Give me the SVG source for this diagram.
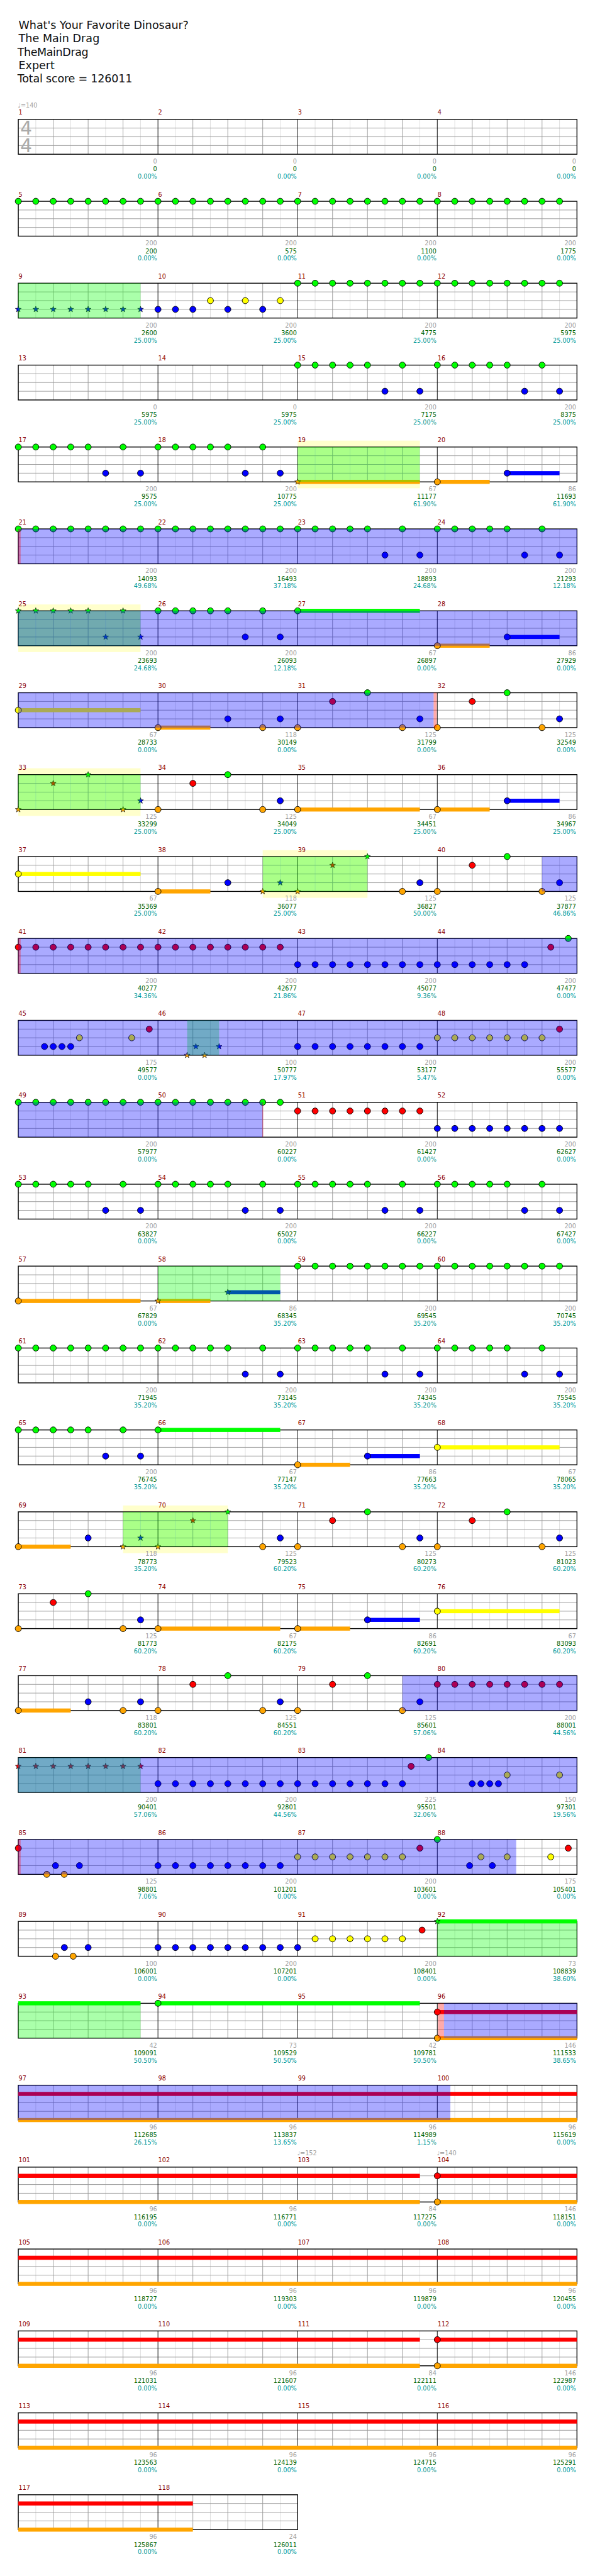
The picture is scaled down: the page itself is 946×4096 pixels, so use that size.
<svg xmlns="http://www.w3.org/2000/svg" width="946" height="4096" viewBox="0 0 946 4096">
<style>
text{font-family:"DejaVu Sans",Verdana,sans-serif}
.hd{font-size:19px;fill:#111}
.mn{font-size:10.5px;fill:#8b0000}
.gv{font-size:10.5px;fill:#a0a0a0;text-anchor:end}
.sc{font-size:10.5px;fill:#006400;text-anchor:end}
.pc{font-size:10.5px;fill:#009999;text-anchor:end}
.tp{font-size:10.5px;fill:#a0a0a0}
.ts{font-size:32px;fill:#aaa}
.yb{fill:#ffffcc}
.ov{fill:#00ff00;fill-opacity:.333}
.bo{fill:#0000ff;fill-opacity:.333}
.pk{fill:#ff0000;fill-opacity:.333}
.sg{fill:#00ff00}.sr{fill:#ff0000}.sy{fill:#ffff00}.sb{fill:#0000ff}.so{fill:#ffa500}
</style>
<defs>
<g id="g4">
<path d="M61.6 0v60M121.7 0v60M181.8 0v60M241.9 0v60M302 0v60M362.1 0v60M422.2 0v60M482.3 0v60M542.4 0v60M602.5 0v60M662.6 0v60M722.7 0v60M782.8 0v60M842.9 0v60M903 0v60M963.1 0v60" stroke="#dddddd" stroke-width="1"/>
<path d="M91.6 0v60M151.7 0v60M211.8 0v60M332 0v60M392.1 0v60M452.2 0v60M572.4 0v60M632.5 0v60M692.6 0v60M812.8 0v60M872.9 0v60M933 0v60M31.5 15H993.1M31.5 30H993.1M31.5 45H993.1" stroke="#999" stroke-width="1"/>
<path d="M271.9 0v60M512.3 0v60M752.7 0v60" stroke="#000" stroke-width="1"/>
<rect x="31.5" y="0" width="961.6" height="60" fill="none" stroke="#000" stroke-width="1.5"/>
</g>
<g id="g2">
<path d="M61.6 0v60M121.7 0v60M181.8 0v60M241.9 0v60M302 0v60M362.1 0v60M422.2 0v60M482.3 0v60" stroke="#dddddd" stroke-width="1"/>
<path d="M91.6 0v60M151.7 0v60M211.8 0v60M332 0v60M392.1 0v60M452.2 0v60M31.5 15H512.3M31.5 30H512.3M31.5 45H512.3" stroke="#999" stroke-width="1"/>
<path d="M271.9 0v60" stroke="#000" stroke-width="1"/>
<rect x="31.5" y="0" width="480.8" height="60" fill="none" stroke="#000" stroke-width="1.5"/>
</g>
<circle id="g" r="5.3" fill="#00ff00" stroke="#000"/>
<circle id="r" cy="15" r="5.3" fill="#ff0000" stroke="#000"/>
<circle id="y" cy="30" r="5.3" fill="#ffff00" stroke="#000"/>
<circle id="b" cy="45" r="5.3" fill="#0000ff" stroke="#000"/>
<circle id="o" cy="60" r="5.3" fill="#ffa500" stroke="#000"/>
<polygon id="st" points="0,-5.3 1.29,-1.78 5.04,-1.64 2.09,0.68 3.12,4.29 0,2.2 -3.12,4.29 -2.09,0.68 -5.04,-1.64 -1.29,-1.78" stroke="#000" stroke-width="0.7"/>
<use id="G" href="#st" fill="#00ff00"/>
<use id="R" href="#st" y="15" fill="#ff0000"/>
<use id="Y" href="#st" y="30" fill="#ffff00"/>
<use id="B" href="#st" y="45" fill="#0000ff"/>
<use id="O" href="#st" y="60" fill="#ffa500"/>
</defs>
<rect width="946" height="4096" fill="#fff"/>
<g transform="scale(0.9237)">
<g id="header">
<text class="hd" x="32" y="49.3" textLength="292.7">What's Your Favorite Dinosaur?</text>
<text class="hd" x="32" y="72.7" textLength="139.4">The Main Drag</text>
<text class="hd" x="30" y="96" textLength="122.3">TheMainDrag</text>
<text class="hd" x="32" y="119" textLength="62">Expert</text>
<text class="hd" x="30" y="141.7" textLength="197.7">Total score = 126011</text>
</g>

<g id="row1" transform="translate(0,205.5)">
<use href="#g4"/>
<text class="ts" x="35" y="26.5">4</text><text class="ts" x="35" y="56.5">4</text>
<text class="tp" x="30.7" y="-20.8">♩=140</text>
<g class="mn" transform="translate(0,-8)"><text x="32">1</text><text x="272.4">2</text><text x="512.8">3</text><text x="753.2">4</text></g>
<g class="gv" transform="translate(0,76.2)"><text x="270.4">0</text><text x="510.8">0</text><text x="751.2">0</text><text x="991.6">0</text></g>
<g class="sc" transform="translate(0,89.5)"><text x="270.4">0</text><text x="510.8">0</text><text x="751.2">0</text><text x="991.6">0</text></g>
<g class="pc" transform="translate(0,102.2)"><text x="270.4">0.00%</text><text x="510.8">0.00%</text><text x="751.2">0.00%</text><text x="991.6">0.00%</text></g>
</g>

<g id="row2" transform="translate(0,346.5)">
<use href="#g4"/>
<use href="#g" x="31.5"/><use href="#g" x="61.6"/><use href="#g" x="91.6"/><use href="#g" x="121.7"/><use href="#g" x="151.7"/><use href="#g" x="181.8"/><use href="#g" x="211.8"/><use href="#g" x="241.9"/><use href="#g" x="271.9"/><use href="#g" x="302"/><use href="#g" x="332"/><use href="#g" x="362.1"/><use href="#g" x="392.1"/><use href="#g" x="422.2"/><use href="#g" x="452.2"/><use href="#g" x="482.3"/><use href="#g" x="512.3"/><use href="#g" x="542.4"/><use href="#g" x="572.4"/><use href="#g" x="602.5"/><use href="#g" x="632.5"/><use href="#g" x="662.6"/><use href="#g" x="692.6"/><use href="#g" x="722.7"/><use href="#g" x="752.7"/><use href="#g" x="782.8"/><use href="#g" x="812.8"/><use href="#g" x="842.9"/><use href="#g" x="872.9"/><use href="#g" x="903"/><use href="#g" x="933"/><use href="#g" x="963.1"/>
<g class="mn" transform="translate(0,-8)"><text x="32">5</text><text x="272.4">6</text><text x="512.8">7</text><text x="753.2">8</text></g>
<g class="gv" transform="translate(0,76.2)"><text x="270.4">200</text><text x="510.8">200</text><text x="751.2">200</text><text x="991.6">200</text></g>
<g class="sc" transform="translate(0,89.5)"><text x="270.4">200</text><text x="510.8">575</text><text x="751.2">1100</text><text x="991.6">1775</text></g>
<g class="pc" transform="translate(0,102.2)"><text x="270.4">0.00%</text><text x="510.8">0.00%</text><text x="751.2">0.00%</text><text x="991.6">0.00%</text></g>
</g>

<g id="row3" transform="translate(0,487.5)">
<use href="#g4"/>
<use href="#B" x="31.5"/><use href="#B" x="61.6"/><use href="#B" x="91.6"/><use href="#B" x="121.7"/><use href="#B" x="151.7"/><use href="#B" x="181.8"/><use href="#B" x="211.8"/><use href="#B" x="241.9"/>
<use href="#b" x="271.9"/><use href="#b" x="302"/><use href="#b" x="332"/><use href="#b" x="392.1"/><use href="#b" x="452.2"/>
<use href="#y" x="362.1"/><use href="#y" x="422.2"/><use href="#y" x="482.3"/>
<use href="#g" x="512.3"/><use href="#g" x="542.4"/><use href="#g" x="572.4"/><use href="#g" x="602.5"/><use href="#g" x="632.5"/><use href="#g" x="662.6"/><use href="#g" x="692.6"/><use href="#g" x="722.7"/><use href="#g" x="752.7"/><use href="#g" x="782.8"/><use href="#g" x="812.8"/><use href="#g" x="842.9"/><use href="#g" x="872.9"/><use href="#g" x="903"/><use href="#g" x="933"/><use href="#g" x="963.1"/>
<rect class="ov" x="31.5" y="0" width="210.4" height="60"/>
<g class="mn" transform="translate(0,-8)"><text x="32">9</text><text x="272.4">10</text><text x="512.8">11</text><text x="753.2">12</text></g>
<g class="gv" transform="translate(0,76.2)"><text x="270.4">200</text><text x="510.8">200</text><text x="751.2">200</text><text x="991.6">200</text></g>
<g class="sc" transform="translate(0,89.5)"><text x="270.4">2600</text><text x="510.8">3600</text><text x="751.2">4775</text><text x="991.6">5975</text></g>
<g class="pc" transform="translate(0,102.2)"><text x="270.4">25.00%</text><text x="510.8">25.00%</text><text x="751.2">25.00%</text><text x="991.6">25.00%</text></g>
</g>

<g id="row4" transform="translate(0,628.5)">
<use href="#g4"/>
<use href="#g" x="512.3"/><use href="#g" x="542.4"/><use href="#g" x="572.4"/><use href="#g" x="602.5"/><use href="#g" x="632.5"/><use href="#g" x="692.6"/><use href="#g" x="752.7"/><use href="#g" x="782.8"/><use href="#g" x="812.8"/><use href="#g" x="842.9"/><use href="#g" x="872.9"/><use href="#g" x="933"/>
<use href="#b" x="662.6"/><use href="#b" x="722.7"/><use href="#b" x="903"/><use href="#b" x="963.1"/>
<g class="mn" transform="translate(0,-8)"><text x="32">13</text><text x="272.4">14</text><text x="512.8">15</text><text x="753.2">16</text></g>
<g class="gv" transform="translate(0,76.2)"><text x="270.4">0</text><text x="510.8">0</text><text x="751.2">200</text><text x="991.6">200</text></g>
<g class="sc" transform="translate(0,89.5)"><text x="270.4">5975</text><text x="510.8">5975</text><text x="751.2">7175</text><text x="991.6">8375</text></g>
<g class="pc" transform="translate(0,102.2)"><text x="270.4">25.00%</text><text x="510.8">25.00%</text><text x="751.2">25.00%</text><text x="991.6">25.00%</text></g>
</g>

<g id="row5" transform="translate(0,769.5)">
<rect class="yb" x="512.3" y="-11" width="210.4" height="82"/>
<use href="#g4"/>
<rect class="so" x="512.3" y="56.5" width="210.4" height="7"/><rect class="so" x="752.7" y="56.5" width="90.2" height="7"/><rect class="sb" x="872.9" y="41.5" width="90.2" height="7"/>
<use href="#g" x="31.5"/><use href="#g" x="61.6"/><use href="#g" x="91.6"/><use href="#g" x="121.7"/><use href="#g" x="151.7"/><use href="#g" x="211.8"/><use href="#g" x="271.9"/><use href="#g" x="302"/><use href="#g" x="332"/><use href="#g" x="362.1"/><use href="#g" x="392.1"/><use href="#g" x="452.2"/>
<use href="#b" x="181.8"/><use href="#b" x="241.9"/><use href="#b" x="422.2"/><use href="#b" x="482.3"/>
<use href="#O" x="512.3"/><use href="#o" x="752.7"/><use href="#b" x="872.9"/>
<rect class="ov" x="512.3" y="0" width="210.4" height="60"/>
<g class="mn" transform="translate(0,-8)"><text x="32">17</text><text x="272.4">18</text><text x="512.8">19</text><text x="753.2">20</text></g>
<g class="gv" transform="translate(0,76.2)"><text x="270.4">200</text><text x="510.8">200</text><text x="751.2">67</text><text x="991.6">86</text></g>
<g class="sc" transform="translate(0,89.5)"><text x="270.4">9575</text><text x="510.8">10775</text><text x="751.2">11177</text><text x="991.6">11693</text></g>
<g class="pc" transform="translate(0,102.2)"><text x="270.4">25.00%</text><text x="510.8">25.00%</text><text x="751.2">61.90%</text><text x="991.6">61.90%</text></g>
</g>

<g id="row6" transform="translate(0,910.5)">
<use href="#g4"/>
<use href="#g" x="31.5"/><use href="#g" x="61.6"/><use href="#g" x="91.6"/><use href="#g" x="121.7"/><use href="#g" x="151.7"/><use href="#g" x="181.8"/><use href="#g" x="211.8"/><use href="#g" x="241.9"/><use href="#g" x="271.9"/><use href="#g" x="302"/><use href="#g" x="332"/><use href="#g" x="362.1"/><use href="#g" x="392.1"/><use href="#g" x="422.2"/><use href="#g" x="452.2"/><use href="#g" x="482.3"/><use href="#g" x="512.3"/><use href="#g" x="542.4"/><use href="#g" x="572.4"/><use href="#g" x="602.5"/><use href="#g" x="632.5"/><use href="#g" x="692.6"/><use href="#g" x="752.7"/><use href="#g" x="782.8"/><use href="#g" x="812.8"/><use href="#g" x="842.9"/><use href="#g" x="872.9"/><use href="#g" x="933"/>
<use href="#b" x="662.6"/><use href="#b" x="722.7"/><use href="#b" x="903"/><use href="#b" x="963.1"/>
<rect class="bo" x="31.5" y="0" width="961.6" height="60"/><rect class="pk" x="31.5" y="0" width="4" height="60"/>
<g class="mn" transform="translate(0,-8)"><text x="32">21</text><text x="272.4">22</text><text x="512.8">23</text><text x="753.2">24</text></g>
<g class="gv" transform="translate(0,76.2)"><text x="270.4">200</text><text x="510.8">200</text><text x="751.2">200</text><text x="991.6">200</text></g>
<g class="sc" transform="translate(0,89.5)"><text x="270.4">14093</text><text x="510.8">16493</text><text x="751.2">18893</text><text x="991.6">21293</text></g>
<g class="pc" transform="translate(0,102.2)"><text x="270.4">49.68%</text><text x="510.8">37.18%</text><text x="751.2">24.68%</text><text x="991.6">12.18%</text></g>
</g>

<g id="row7" transform="translate(0,1051.5)">
<rect class="yb" x="31.5" y="-11" width="210.4" height="82"/>
<use href="#g4"/>
<rect class="sg" x="512.3" y="-3.5" width="210.4" height="7"/><rect class="so" x="752.7" y="56.5" width="90.2" height="7"/><rect class="sb" x="872.9" y="41.5" width="90.2" height="7"/>
<use href="#G" x="31.5"/><use href="#G" x="61.6"/><use href="#G" x="91.6"/><use href="#G" x="121.7"/><use href="#G" x="151.7"/><use href="#G" x="211.8"/>
<use href="#B" x="181.8"/><use href="#B" x="241.9"/>
<use href="#g" x="271.9"/><use href="#g" x="302"/><use href="#g" x="332"/><use href="#g" x="362.1"/><use href="#g" x="392.1"/><use href="#g" x="452.2"/>
<use href="#b" x="422.2"/><use href="#b" x="482.3"/>
<use href="#g" x="512.3"/><use href="#o" x="752.7"/><use href="#b" x="872.9"/>
<rect class="ov" x="31.5" y="0" width="210.4" height="60"/>
<rect class="bo" x="31.5" y="0" width="961.6" height="60"/>
<g class="mn" transform="translate(0,-8)"><text x="32">25</text><text x="272.4">26</text><text x="512.8">27</text><text x="753.2">28</text></g>
<g class="gv" transform="translate(0,76.2)"><text x="270.4">200</text><text x="510.8">200</text><text x="751.2">67</text><text x="991.6">86</text></g>
<g class="sc" transform="translate(0,89.5)"><text x="270.4">23693</text><text x="510.8">26093</text><text x="751.2">26897</text><text x="991.6">27929</text></g>
<g class="pc" transform="translate(0,102.2)"><text x="270.4">24.68%</text><text x="510.8">12.18%</text><text x="751.2">0.00%</text><text x="991.6">0.00%</text></g>
</g>

<g id="row8" transform="translate(0,1192.5)">
<use href="#g4"/>
<rect class="sy" x="31.5" y="26.5" width="210.4" height="7"/><rect class="so" x="271.9" y="56.5" width="90.2" height="7"/>
<use href="#y" x="31.5"/><use href="#o" x="271.9"/>
<use href="#b" x="392.1"/><use href="#b" x="482.3"/><use href="#b" x="722.7"/><use href="#b" x="963.1"/>
<use href="#o" x="452.2"/><use href="#o" x="512.3"/><use href="#o" x="692.6"/><use href="#o" x="752.7"/><use href="#o" x="933"/>
<use href="#r" x="572.4"/><use href="#r" x="812.8"/><use href="#g" x="632.5"/><use href="#g" x="872.9"/>
<rect class="bo" x="31.5" y="0" width="714.9" height="60"/><rect class="pk" x="746.4" y="0" width="5.4" height="60"/>
<g class="mn" transform="translate(0,-8)"><text x="32">29</text><text x="272.4">30</text><text x="512.8">31</text><text x="753.2">32</text></g>
<g class="gv" transform="translate(0,76.2)"><text x="270.4">67</text><text x="510.8">118</text><text x="751.2">125</text><text x="991.6">125</text></g>
<g class="sc" transform="translate(0,89.5)"><text x="270.4">28733</text><text x="510.8">30149</text><text x="751.2">31799</text><text x="991.6">32549</text></g>
<g class="pc" transform="translate(0,102.2)"><text x="270.4">0.00%</text><text x="510.8">0.00%</text><text x="751.2">0.00%</text><text x="991.6">0.00%</text></g>
</g>

<g id="row9" transform="translate(0,1333.5)">
<rect class="yb" x="31.5" y="-11" width="210.4" height="82"/>
<use href="#g4"/>
<rect class="so" x="512.3" y="56.5" width="210.4" height="7"/><rect class="so" x="752.7" y="56.5" width="90.2" height="7"/><rect class="sb" x="872.9" y="41.5" width="90.2" height="7"/>
<use href="#O" x="31.5"/><use href="#R" x="91.6"/><use href="#G" x="151.7"/><use href="#O" x="211.8"/><use href="#B" x="241.9"/>
<use href="#o" x="271.9"/><use href="#r" x="332"/><use href="#g" x="392.1"/><use href="#o" x="452.2"/><use href="#b" x="482.3"/>
<use href="#o" x="512.3"/><use href="#o" x="752.7"/><use href="#b" x="872.9"/>
<rect class="ov" x="31.5" y="0" width="210.4" height="60"/>
<g class="mn" transform="translate(0,-8)"><text x="32">33</text><text x="272.4">34</text><text x="512.8">35</text><text x="753.2">36</text></g>
<g class="gv" transform="translate(0,76.2)"><text x="270.4">125</text><text x="510.8">125</text><text x="751.2">67</text><text x="991.6">86</text></g>
<g class="sc" transform="translate(0,89.5)"><text x="270.4">33299</text><text x="510.8">34049</text><text x="751.2">34451</text><text x="991.6">34967</text></g>
<g class="pc" transform="translate(0,102.2)"><text x="270.4">25.00%</text><text x="510.8">25.00%</text><text x="751.2">25.00%</text><text x="991.6">25.00%</text></g>
</g>

<g id="row10" transform="translate(0,1474.5)">
<rect class="yb" x="452.2" y="-11" width="180.3" height="82"/>
<use href="#g4"/>
<rect class="sy" x="31.5" y="26.5" width="210.4" height="7"/><rect class="so" x="271.9" y="56.5" width="90.2" height="7"/>
<use href="#y" x="31.5"/><use href="#o" x="271.9"/><use href="#b" x="392.1"/>
<use href="#O" x="452.2"/><use href="#B" x="482.3"/><use href="#O" x="512.3"/><use href="#R" x="572.4"/><use href="#G" x="632.5"/>
<use href="#o" x="692.6"/><use href="#b" x="722.7"/><use href="#o" x="752.7"/><use href="#r" x="812.8"/><use href="#g" x="872.9"/><use href="#o" x="933"/><use href="#b" x="963.1"/>
<rect class="ov" x="452.2" y="0" width="180.3" height="60"/>
<rect class="bo" x="933" y="0" width="60.1" height="60"/>
<g class="mn" transform="translate(0,-8)"><text x="32">37</text><text x="272.4">38</text><text x="512.8">39</text><text x="753.2">40</text></g>
<g class="gv" transform="translate(0,76.2)"><text x="270.4">67</text><text x="510.8">118</text><text x="751.2">125</text><text x="991.6">125</text></g>
<g class="sc" transform="translate(0,89.5)"><text x="270.4">35369</text><text x="510.8">36077</text><text x="751.2">36827</text><text x="991.6">37877</text></g>
<g class="pc" transform="translate(0,102.2)"><text x="270.4">25.00%</text><text x="510.8">25.00%</text><text x="751.2">50.00%</text><text x="991.6">46.86%</text></g>
</g>

<g id="row11" transform="translate(0,1615.5)">
<use href="#g4"/>
<use href="#r" x="31.5"/><use href="#r" x="61.6"/><use href="#r" x="91.6"/><use href="#r" x="121.7"/><use href="#r" x="151.7"/><use href="#r" x="181.8"/><use href="#r" x="211.8"/><use href="#r" x="241.9"/><use href="#r" x="271.9"/><use href="#r" x="302"/><use href="#r" x="332"/><use href="#r" x="362.1"/><use href="#r" x="392.1"/><use href="#r" x="422.2"/><use href="#r" x="452.2"/><use href="#r" x="482.3"/>
<use href="#b" x="512.3"/><use href="#b" x="542.4"/><use href="#b" x="572.4"/><use href="#b" x="602.5"/><use href="#b" x="632.5"/><use href="#b" x="662.6"/><use href="#b" x="692.6"/><use href="#b" x="722.7"/><use href="#b" x="752.7"/><use href="#b" x="782.8"/><use href="#b" x="812.8"/><use href="#b" x="842.9"/><use href="#b" x="872.9"/><use href="#b" x="903"/>
<use href="#r" x="948"/><use href="#g" x="978.1"/>
<rect class="bo" x="31.5" y="0" width="961.6" height="60"/><rect class="pk" x="31.5" y="0" width="4" height="60"/>
<g class="mn" transform="translate(0,-8)"><text x="32">41</text><text x="272.4">42</text><text x="512.8">43</text><text x="753.2">44</text></g>
<g class="gv" transform="translate(0,76.2)"><text x="270.4">200</text><text x="510.8">200</text><text x="751.2">200</text><text x="991.6">200</text></g>
<g class="sc" transform="translate(0,89.5)"><text x="270.4">40277</text><text x="510.8">42677</text><text x="751.2">45077</text><text x="991.6">47477</text></g>
<g class="pc" transform="translate(0,102.2)"><text x="270.4">34.36%</text><text x="510.8">21.86%</text><text x="751.2">9.36%</text><text x="991.6">0.00%</text></g>
</g>

<g id="row12" transform="translate(0,1756.5)">
<use href="#g4"/>
<use href="#b" x="76.6"/><use href="#b" x="91.6"/><use href="#b" x="106.6"/><use href="#b" x="121.7"/>
<use href="#y" x="136.7"/><use href="#y" x="226.8"/><use href="#r" x="256.9"/>
<use href="#O" x="322.1"/><use href="#O" x="352.1"/><use href="#B" x="337.1"/><use href="#B" x="377.1"/>
<use href="#b" x="512.3"/><use href="#b" x="542.4"/><use href="#b" x="572.4"/><use href="#b" x="602.5"/><use href="#b" x="632.5"/><use href="#b" x="662.6"/><use href="#b" x="692.6"/><use href="#b" x="722.7"/>
<use href="#y" x="752.7"/><use href="#y" x="782.8"/><use href="#y" x="812.8"/><use href="#y" x="842.9"/><use href="#y" x="872.9"/><use href="#y" x="903"/><use href="#y" x="933"/>
<use href="#r" x="963.1"/>
<rect class="ov" x="322.1" y="0" width="55" height="60"/>
<rect class="bo" x="31.5" y="0" width="961.6" height="60"/>
<g class="mn" transform="translate(0,-8)"><text x="32">45</text><text x="272.4">46</text><text x="512.8">47</text><text x="753.2">48</text></g>
<g class="gv" transform="translate(0,76.2)"><text x="270.4">175</text><text x="510.8">100</text><text x="751.2">200</text><text x="991.6">200</text></g>
<g class="sc" transform="translate(0,89.5)"><text x="270.4">49577</text><text x="510.8">50777</text><text x="751.2">53177</text><text x="991.6">55577</text></g>
<g class="pc" transform="translate(0,102.2)"><text x="270.4">0.00%</text><text x="510.8">17.97%</text><text x="751.2">5.47%</text><text x="991.6">0.00%</text></g>
</g>

<g id="row13" transform="translate(0,1897.5)">
<use href="#g4"/>
<use href="#g" x="31.5"/><use href="#g" x="61.6"/><use href="#g" x="91.6"/><use href="#g" x="121.7"/><use href="#g" x="151.7"/><use href="#g" x="181.8"/><use href="#g" x="211.8"/><use href="#g" x="241.9"/><use href="#g" x="271.9"/><use href="#g" x="302"/><use href="#g" x="332"/><use href="#g" x="362.1"/><use href="#g" x="392.1"/><use href="#g" x="422.2"/><use href="#g" x="452.2"/><use href="#g" x="482.3"/>
<use href="#r" x="512.3"/><use href="#r" x="542.4"/><use href="#r" x="572.4"/><use href="#r" x="602.5"/><use href="#r" x="632.5"/><use href="#r" x="662.6"/><use href="#r" x="692.6"/><use href="#r" x="722.7"/>
<use href="#b" x="752.7"/><use href="#b" x="782.8"/><use href="#b" x="812.8"/><use href="#b" x="842.9"/><use href="#b" x="872.9"/><use href="#b" x="903"/><use href="#b" x="933"/><use href="#b" x="963.1"/>
<rect class="bo" x="31.5" y="0" width="420.7" height="60"/><rect class="pk" x="451.5" y="0" width="1.5" height="60"/>
<g class="mn" transform="translate(0,-8)"><text x="32">49</text><text x="272.4">50</text><text x="512.8">51</text><text x="753.2">52</text></g>
<g class="gv" transform="translate(0,76.2)"><text x="270.4">200</text><text x="510.8">200</text><text x="751.2">200</text><text x="991.6">200</text></g>
<g class="sc" transform="translate(0,89.5)"><text x="270.4">57977</text><text x="510.8">60227</text><text x="751.2">61427</text><text x="991.6">62627</text></g>
<g class="pc" transform="translate(0,102.2)"><text x="270.4">0.00%</text><text x="510.8">0.00%</text><text x="751.2">0.00%</text><text x="991.6">0.00%</text></g>
</g>

<g id="row14" transform="translate(0,2038.5)">
<use href="#g4"/>
<use href="#g" x="31.5"/><use href="#g" x="61.6"/><use href="#g" x="91.6"/><use href="#g" x="121.7"/><use href="#g" x="151.7"/><use href="#g" x="211.8"/><use href="#g" x="271.9"/><use href="#g" x="302"/><use href="#g" x="332"/><use href="#g" x="362.1"/><use href="#g" x="392.1"/><use href="#g" x="452.2"/><use href="#g" x="512.3"/><use href="#g" x="542.4"/><use href="#g" x="572.4"/><use href="#g" x="602.5"/><use href="#g" x="632.5"/><use href="#g" x="692.6"/><use href="#g" x="752.7"/><use href="#g" x="782.8"/><use href="#g" x="812.8"/><use href="#g" x="842.9"/><use href="#g" x="872.9"/><use href="#g" x="933"/>
<use href="#b" x="181.8"/><use href="#b" x="241.9"/><use href="#b" x="422.2"/><use href="#b" x="482.3"/><use href="#b" x="662.6"/><use href="#b" x="722.7"/><use href="#b" x="903"/><use href="#b" x="963.1"/>
<g class="mn" transform="translate(0,-8)"><text x="32">53</text><text x="272.4">54</text><text x="512.8">55</text><text x="753.2">56</text></g>
<g class="gv" transform="translate(0,76.2)"><text x="270.4">200</text><text x="510.8">200</text><text x="751.2">200</text><text x="991.6">200</text></g>
<g class="sc" transform="translate(0,89.5)"><text x="270.4">63827</text><text x="510.8">65027</text><text x="751.2">66227</text><text x="991.6">67427</text></g>
<g class="pc" transform="translate(0,102.2)"><text x="270.4">0.00%</text><text x="510.8">0.00%</text><text x="751.2">0.00%</text><text x="991.6">0.00%</text></g>
</g>

<g id="row15" transform="translate(0,2179.5)">
<use href="#g4"/>
<rect class="so" x="31.5" y="56.5" width="210.4" height="7"/><rect class="so" x="271.9" y="56.5" width="90.2" height="7"/><rect class="sb" x="392.1" y="41.5" width="90.2" height="7"/>
<use href="#o" x="31.5"/><use href="#O" x="271.9"/><use href="#B" x="392.1"/>
<use href="#g" x="512.3"/><use href="#g" x="542.4"/><use href="#g" x="572.4"/><use href="#g" x="602.5"/><use href="#g" x="632.5"/><use href="#g" x="662.6"/><use href="#g" x="692.6"/><use href="#g" x="722.7"/><use href="#g" x="752.7"/><use href="#g" x="782.8"/><use href="#g" x="812.8"/><use href="#g" x="842.9"/><use href="#g" x="872.9"/><use href="#g" x="903"/><use href="#g" x="933"/><use href="#g" x="963.1"/>
<rect class="ov" x="271.9" y="0" width="210.4" height="60"/>
<g class="mn" transform="translate(0,-8)"><text x="32">57</text><text x="272.4">58</text><text x="512.8">59</text><text x="753.2">60</text></g>
<g class="gv" transform="translate(0,76.2)"><text x="270.4">67</text><text x="510.8">86</text><text x="751.2">200</text><text x="991.6">200</text></g>
<g class="sc" transform="translate(0,89.5)"><text x="270.4">67829</text><text x="510.8">68345</text><text x="751.2">69545</text><text x="991.6">70745</text></g>
<g class="pc" transform="translate(0,102.2)"><text x="270.4">0.00%</text><text x="510.8">35.20%</text><text x="751.2">35.20%</text><text x="991.6">35.20%</text></g>
</g>

<g id="row16" transform="translate(0,2320.5)">
<use href="#g4"/>
<use href="#g" x="31.5"/><use href="#g" x="61.6"/><use href="#g" x="91.6"/><use href="#g" x="121.7"/><use href="#g" x="151.7"/><use href="#g" x="181.8"/><use href="#g" x="211.8"/><use href="#g" x="241.9"/><use href="#g" x="271.9"/><use href="#g" x="302"/><use href="#g" x="332"/><use href="#g" x="362.1"/><use href="#g" x="392.1"/><use href="#g" x="452.2"/><use href="#g" x="512.3"/><use href="#g" x="542.4"/><use href="#g" x="572.4"/><use href="#g" x="602.5"/><use href="#g" x="632.5"/><use href="#g" x="692.6"/><use href="#g" x="752.7"/><use href="#g" x="782.8"/><use href="#g" x="812.8"/><use href="#g" x="842.9"/><use href="#g" x="872.9"/><use href="#g" x="933"/>
<use href="#b" x="422.2"/><use href="#b" x="482.3"/><use href="#b" x="662.6"/><use href="#b" x="722.7"/><use href="#b" x="903"/><use href="#b" x="963.1"/>
<g class="mn" transform="translate(0,-8)"><text x="32">61</text><text x="272.4">62</text><text x="512.8">63</text><text x="753.2">64</text></g>
<g class="gv" transform="translate(0,76.2)"><text x="270.4">200</text><text x="510.8">200</text><text x="751.2">200</text><text x="991.6">200</text></g>
<g class="sc" transform="translate(0,89.5)"><text x="270.4">71945</text><text x="510.8">73145</text><text x="751.2">74345</text><text x="991.6">75545</text></g>
<g class="pc" transform="translate(0,102.2)"><text x="270.4">35.20%</text><text x="510.8">35.20%</text><text x="751.2">35.20%</text><text x="991.6">35.20%</text></g>
</g>

<g id="row17" transform="translate(0,2461.5)">
<use href="#g4"/>
<rect class="sg" x="271.9" y="-3.5" width="210.4" height="7"/><rect class="so" x="512.3" y="56.5" width="90.2" height="7"/><rect class="sb" x="632.5" y="41.5" width="90.2" height="7"/><rect class="sy" x="752.7" y="26.5" width="210.4" height="7"/>
<use href="#g" x="31.5"/><use href="#g" x="61.6"/><use href="#g" x="91.6"/><use href="#g" x="121.7"/><use href="#g" x="151.7"/><use href="#g" x="211.8"/>
<use href="#b" x="181.8"/><use href="#b" x="241.9"/>
<use href="#g" x="271.9"/><use href="#o" x="512.3"/><use href="#b" x="632.5"/><use href="#y" x="752.7"/>
<g class="mn" transform="translate(0,-8)"><text x="32">65</text><text x="272.4">66</text><text x="512.8">67</text><text x="753.2">68</text></g>
<g class="gv" transform="translate(0,76.2)"><text x="270.4">200</text><text x="510.8">67</text><text x="751.2">86</text><text x="991.6">67</text></g>
<g class="sc" transform="translate(0,89.5)"><text x="270.4">76745</text><text x="510.8">77147</text><text x="751.2">77663</text><text x="991.6">78065</text></g>
<g class="pc" transform="translate(0,102.2)"><text x="270.4">35.20%</text><text x="510.8">35.20%</text><text x="751.2">35.20%</text><text x="991.6">35.20%</text></g>
</g>

<g id="row18" transform="translate(0,2602.5)">
<rect class="yb" x="211.8" y="-11" width="180.3" height="82"/>
<use href="#g4"/>
<rect class="so" x="31.5" y="56.5" width="90.2" height="7"/>
<use href="#o" x="31.5"/><use href="#b" x="151.7"/>
<use href="#O" x="211.8"/><use href="#B" x="241.9"/><use href="#O" x="271.9"/><use href="#R" x="332"/><use href="#G" x="392.1"/>
<use href="#o" x="452.2"/><use href="#b" x="482.3"/><use href="#o" x="512.3"/><use href="#r" x="572.4"/><use href="#g" x="632.5"/><use href="#o" x="692.6"/><use href="#b" x="722.7"/><use href="#o" x="752.7"/><use href="#r" x="812.8"/><use href="#g" x="872.9"/><use href="#o" x="933"/><use href="#b" x="963.1"/>
<rect class="ov" x="211.8" y="0" width="180.3" height="60"/>
<g class="mn" transform="translate(0,-8)"><text x="32">69</text><text x="272.4">70</text><text x="512.8">71</text><text x="753.2">72</text></g>
<g class="gv" transform="translate(0,76.2)"><text x="270.4">118</text><text x="510.8">125</text><text x="751.2">125</text><text x="991.6">125</text></g>
<g class="sc" transform="translate(0,89.5)"><text x="270.4">78773</text><text x="510.8">79523</text><text x="751.2">80273</text><text x="991.6">81023</text></g>
<g class="pc" transform="translate(0,102.2)"><text x="270.4">35.20%</text><text x="510.8">60.20%</text><text x="751.2">60.20%</text><text x="991.6">60.20%</text></g>
</g>

<g id="row19" transform="translate(0,2743.5)">
<use href="#g4"/>
<rect class="so" x="271.9" y="56.5" width="210.4" height="7"/><rect class="so" x="512.3" y="56.5" width="90.2" height="7"/><rect class="sb" x="632.5" y="41.5" width="90.2" height="7"/><rect class="sy" x="752.7" y="26.5" width="210.4" height="7"/>
<use href="#o" x="31.5"/><use href="#r" x="91.6"/><use href="#g" x="151.7"/><use href="#o" x="211.8"/><use href="#b" x="241.9"/>
<use href="#o" x="271.9"/><use href="#o" x="512.3"/><use href="#b" x="632.5"/><use href="#y" x="752.7"/>
<g class="mn" transform="translate(0,-8)"><text x="32">73</text><text x="272.4">74</text><text x="512.8">75</text><text x="753.2">76</text></g>
<g class="gv" transform="translate(0,76.2)"><text x="270.4">125</text><text x="510.8">67</text><text x="751.2">86</text><text x="991.6">67</text></g>
<g class="sc" transform="translate(0,89.5)"><text x="270.4">81773</text><text x="510.8">82175</text><text x="751.2">82691</text><text x="991.6">83093</text></g>
<g class="pc" transform="translate(0,102.2)"><text x="270.4">60.20%</text><text x="510.8">60.20%</text><text x="751.2">60.20%</text><text x="991.6">60.20%</text></g>
</g>

<g id="row20" transform="translate(0,2884.5)">
<use href="#g4"/>
<rect class="so" x="31.5" y="56.5" width="90.2" height="7"/>
<use href="#o" x="31.5"/><use href="#b" x="151.7"/><use href="#o" x="211.8"/><use href="#b" x="241.9"/><use href="#o" x="271.9"/><use href="#r" x="332"/><use href="#g" x="392.1"/><use href="#o" x="452.2"/><use href="#b" x="482.3"/><use href="#o" x="512.3"/><use href="#r" x="572.4"/><use href="#g" x="632.5"/><use href="#o" x="692.6"/><use href="#b" x="722.7"/>
<use href="#r" x="752.7"/><use href="#r" x="782.8"/><use href="#r" x="812.8"/><use href="#r" x="842.9"/><use href="#r" x="872.9"/><use href="#r" x="903"/><use href="#r" x="933"/><use href="#r" x="963.1"/>
<rect class="bo" x="692.6" y="0" width="300.5" height="60"/>
<g class="mn" transform="translate(0,-8)"><text x="32">77</text><text x="272.4">78</text><text x="512.8">79</text><text x="753.2">80</text></g>
<g class="gv" transform="translate(0,76.2)"><text x="270.4">118</text><text x="510.8">125</text><text x="751.2">125</text><text x="991.6">200</text></g>
<g class="sc" transform="translate(0,89.5)"><text x="270.4">83801</text><text x="510.8">84551</text><text x="751.2">85601</text><text x="991.6">88001</text></g>
<g class="pc" transform="translate(0,102.2)"><text x="270.4">60.20%</text><text x="510.8">60.20%</text><text x="751.2">57.06%</text><text x="991.6">44.56%</text></g>
</g>

<g id="row21" transform="translate(0,3025.5)">
<use href="#g4"/>
<use href="#R" x="31.5"/><use href="#R" x="61.6"/><use href="#R" x="91.6"/><use href="#R" x="121.7"/><use href="#R" x="151.7"/><use href="#R" x="181.8"/><use href="#R" x="211.8"/><use href="#R" x="241.9"/>
<use href="#b" x="271.9"/><use href="#b" x="302"/><use href="#b" x="332"/><use href="#b" x="362.1"/><use href="#b" x="392.1"/><use href="#b" x="422.2"/><use href="#b" x="452.2"/><use href="#b" x="482.3"/><use href="#b" x="512.3"/><use href="#b" x="542.4"/><use href="#b" x="572.4"/><use href="#b" x="602.5"/><use href="#b" x="632.5"/><use href="#b" x="662.6"/><use href="#b" x="692.6"/>
<use href="#r" x="707.6"/><use href="#g" x="737.7"/>
<use href="#b" x="812.8"/><use href="#b" x="827.8"/><use href="#b" x="842.9"/><use href="#b" x="857.9"/>
<use href="#y" x="872.9"/><use href="#y" x="963.1"/>
<rect class="ov" x="31.5" y="0" width="210.4" height="60"/>
<rect class="bo" x="31.5" y="0" width="961.6" height="60"/>
<g class="mn" transform="translate(0,-8)"><text x="32">81</text><text x="272.4">82</text><text x="512.8">83</text><text x="753.2">84</text></g>
<g class="gv" transform="translate(0,76.2)"><text x="270.4">200</text><text x="510.8">200</text><text x="751.2">225</text><text x="991.6">150</text></g>
<g class="sc" transform="translate(0,89.5)"><text x="270.4">90401</text><text x="510.8">92801</text><text x="751.2">95501</text><text x="991.6">97301</text></g>
<g class="pc" transform="translate(0,102.2)"><text x="270.4">57.06%</text><text x="510.8">44.56%</text><text x="751.2">32.06%</text><text x="991.6">19.56%</text></g>
</g>

<g id="row22" transform="translate(0,3166.5)">
<use href="#g4"/>
<use href="#r" x="31.5"/><use href="#o" x="80.5"/><use href="#o" x="110.5"/><use href="#b" x="95.5"/><use href="#b" x="136.7"/>
<use href="#b" x="271.9"/><use href="#b" x="302"/><use href="#b" x="332"/><use href="#b" x="362.1"/><use href="#b" x="392.1"/><use href="#b" x="422.2"/><use href="#b" x="452.2"/><use href="#b" x="482.3"/>
<use href="#y" x="512.3"/><use href="#y" x="542.4"/><use href="#y" x="572.4"/><use href="#y" x="602.5"/><use href="#y" x="632.5"/><use href="#y" x="662.6"/><use href="#y" x="692.6"/>
<use href="#r" x="722.7"/><use href="#g" x="752.7"/>
<use href="#b" x="808.3"/><use href="#b" x="847.4"/><use href="#y" x="827.8"/><use href="#y" x="872.9"/>
<use href="#y" x="948"/><use href="#r" x="978.1"/>
<rect class="bo" x="31.5" y="0" width="857" height="60"/><rect class="pk" x="31.5" y="0" width="4" height="60"/>
<g class="mn" transform="translate(0,-8)"><text x="32">85</text><text x="272.4">86</text><text x="512.8">87</text><text x="753.2">88</text></g>
<g class="gv" transform="translate(0,76.2)"><text x="270.4">125</text><text x="510.8">200</text><text x="751.2">200</text><text x="991.6">175</text></g>
<g class="sc" transform="translate(0,89.5)"><text x="270.4">98801</text><text x="510.8">101201</text><text x="751.2">103601</text><text x="991.6">105401</text></g>
<g class="pc" transform="translate(0,102.2)"><text x="270.4">7.06%</text><text x="510.8">0.00%</text><text x="751.2">0.00%</text><text x="991.6">0.00%</text></g>
</g>

<g id="row23" transform="translate(0,3307.5)">
<use href="#g4"/>
<rect class="sg" x="752.7" y="-3.5" width="240.4" height="7"/>
<use href="#o" x="95.5"/><use href="#o" x="125.9"/><use href="#b" x="110.8"/><use href="#b" x="151.7"/>
<use href="#b" x="271.9"/><use href="#b" x="302"/><use href="#b" x="332"/><use href="#b" x="362.1"/><use href="#b" x="392.1"/><use href="#b" x="422.2"/><use href="#b" x="452.2"/><use href="#b" x="482.3"/><use href="#b" x="512.3"/>
<use href="#y" x="542.4"/><use href="#y" x="572.4"/><use href="#y" x="602.5"/><use href="#y" x="632.5"/><use href="#y" x="662.6"/><use href="#y" x="692.6"/>
<use href="#r" x="726.5"/><use href="#G" x="752.7"/>
<rect class="ov" x="752.7" y="0" width="240.4" height="60"/>
<g class="mn" transform="translate(0,-8)"><text x="32">89</text><text x="272.4">90</text><text x="512.8">91</text><text x="753.2">92</text></g>
<g class="gv" transform="translate(0,76.2)"><text x="270.4">100</text><text x="510.8">200</text><text x="751.2">200</text><text x="991.6">73</text></g>
<g class="sc" transform="translate(0,89.5)"><text x="270.4">106001</text><text x="510.8">107201</text><text x="751.2">108401</text><text x="991.6">108839</text></g>
<g class="pc" transform="translate(0,102.2)"><text x="270.4">0.00%</text><text x="510.8">0.00%</text><text x="751.2">0.00%</text><text x="991.6">38.60%</text></g>
</g>

<g id="row24" transform="translate(0,3448.5)">
<use href="#g4"/>
<rect class="sg" x="31.5" y="-3.5" width="210.4" height="7"/><rect class="sg" x="271.9" y="-3.5" width="450.8" height="7"/><rect class="sr" x="752.7" y="11.5" width="240.4" height="7"/><rect class="so" x="752.7" y="56.5" width="240.4" height="7"/>
<use href="#g" x="271.9"/><use href="#r" x="752.7"/><use href="#o" x="752.7"/>
<rect class="ov" x="31.5" y="0" width="210.4" height="60"/>
<rect class="pk" x="753.8" y="0" width="10.4" height="60"/><rect class="bo" x="764.2" y="0" width="228.9" height="60"/>
<g class="mn" transform="translate(0,-8)"><text x="32">93</text><text x="272.4">94</text><text x="512.8">95</text><text x="753.2">96</text></g>
<g class="gv" transform="translate(0,76.2)"><text x="270.4">42</text><text x="510.8">73</text><text x="751.2">42</text><text x="991.6">146</text></g>
<g class="sc" transform="translate(0,89.5)"><text x="270.4">109091</text><text x="510.8">109529</text><text x="751.2">109781</text><text x="991.6">111533</text></g>
<g class="pc" transform="translate(0,102.2)"><text x="270.4">50.50%</text><text x="510.8">50.50%</text><text x="751.2">50.50%</text><text x="991.6">38.65%</text></g>
</g>

<g id="row25" transform="translate(0,3589.5)">
<use href="#g4"/>
<rect class="sr" x="31.5" y="11.5" width="961.6" height="7"/><rect class="so" x="31.5" y="56.5" width="961.6" height="7"/>
<rect class="bo" x="31.5" y="0" width="743.7" height="60"/>
<g class="mn" transform="translate(0,-8)"><text x="32">97</text><text x="272.4">98</text><text x="512.8">99</text><text x="753.2">100</text></g>
<g class="gv" transform="translate(0,76.2)"><text x="270.4">96</text><text x="510.8">96</text><text x="751.2">96</text><text x="991.6">96</text></g>
<g class="sc" transform="translate(0,89.5)"><text x="270.4">112685</text><text x="510.8">113837</text><text x="751.2">114989</text><text x="991.6">115619</text></g>
<g class="pc" transform="translate(0,102.2)"><text x="270.4">26.15%</text><text x="510.8">13.65%</text><text x="751.2">1.15%</text><text x="991.6">0.00%</text></g>
</g>

<g id="row26" transform="translate(0,3730.5)">
<use href="#g4"/>
<rect class="sr" x="31.5" y="11.5" width="691.2" height="7"/><rect class="so" x="31.5" y="56.5" width="691.2" height="7"/>
<rect class="sr" x="752.7" y="11.5" width="240.4" height="7"/><rect class="so" x="752.7" y="56.5" width="240.4" height="7"/>
<use href="#r" x="752.7"/><use href="#o" x="752.7"/>
<text class="tp" x="511.5" y="-20.8">♩=152</text><text class="tp" x="751.9" y="-20.8">♩=140</text>
<g class="mn" transform="translate(0,-8)"><text x="32">101</text><text x="272.4">102</text><text x="512.8">103</text><text x="753.2">104</text></g>
<g class="gv" transform="translate(0,76.2)"><text x="270.4">96</text><text x="510.8">96</text><text x="751.2">84</text><text x="991.6">146</text></g>
<g class="sc" transform="translate(0,89.5)"><text x="270.4">116195</text><text x="510.8">116771</text><text x="751.2">117275</text><text x="991.6">118151</text></g>
<g class="pc" transform="translate(0,102.2)"><text x="270.4">0.00%</text><text x="510.8">0.00%</text><text x="751.2">0.00%</text><text x="991.6">0.00%</text></g>
</g>

<g id="row27" transform="translate(0,3871.5)">
<use href="#g4"/>
<rect class="sr" x="31.5" y="11.5" width="961.6" height="7"/><rect class="so" x="31.5" y="56.5" width="961.6" height="7"/>
<g class="mn" transform="translate(0,-8)"><text x="32">105</text><text x="272.4">106</text><text x="512.8">107</text><text x="753.2">108</text></g>
<g class="gv" transform="translate(0,76.2)"><text x="270.4">96</text><text x="510.8">96</text><text x="751.2">96</text><text x="991.6">96</text></g>
<g class="sc" transform="translate(0,89.5)"><text x="270.4">118727</text><text x="510.8">119303</text><text x="751.2">119879</text><text x="991.6">120455</text></g>
<g class="pc" transform="translate(0,102.2)"><text x="270.4">0.00%</text><text x="510.8">0.00%</text><text x="751.2">0.00%</text><text x="991.6">0.00%</text></g>
</g>

<g id="row28" transform="translate(0,4012.5)">
<use href="#g4"/>
<rect class="sr" x="31.5" y="11.5" width="691.2" height="7"/><rect class="so" x="31.5" y="56.5" width="691.2" height="7"/>
<rect class="sr" x="752.7" y="11.5" width="240.4" height="7"/><rect class="so" x="752.7" y="56.5" width="240.4" height="7"/>
<use href="#r" x="752.7"/><use href="#o" x="752.7"/>
<g class="mn" transform="translate(0,-8)"><text x="32">109</text><text x="272.4">110</text><text x="512.8">111</text><text x="753.2">112</text></g>
<g class="gv" transform="translate(0,76.2)"><text x="270.4">96</text><text x="510.8">96</text><text x="751.2">84</text><text x="991.6">146</text></g>
<g class="sc" transform="translate(0,89.5)"><text x="270.4">121031</text><text x="510.8">121607</text><text x="751.2">122111</text><text x="991.6">122987</text></g>
<g class="pc" transform="translate(0,102.2)"><text x="270.4">0.00%</text><text x="510.8">0.00%</text><text x="751.2">0.00%</text><text x="991.6">0.00%</text></g>
</g>

<g id="row29" transform="translate(0,4153.5)">
<use href="#g4"/>
<rect class="sr" x="31.5" y="11.5" width="961.6" height="7"/><rect class="so" x="31.5" y="56.5" width="961.6" height="7"/>
<g class="mn" transform="translate(0,-8)"><text x="32">113</text><text x="272.4">114</text><text x="512.8">115</text><text x="753.2">116</text></g>
<g class="gv" transform="translate(0,76.2)"><text x="270.4">96</text><text x="510.8">96</text><text x="751.2">96</text><text x="991.6">96</text></g>
<g class="sc" transform="translate(0,89.5)"><text x="270.4">123563</text><text x="510.8">124139</text><text x="751.2">124715</text><text x="991.6">125291</text></g>
<g class="pc" transform="translate(0,102.2)"><text x="270.4">0.00%</text><text x="510.8">0.00%</text><text x="751.2">0.00%</text><text x="991.6">0.00%</text></g>
</g>

<g id="row30" transform="translate(0,4294.5)">
<use href="#g2"/>
<rect class="sr" x="31.5" y="11.5" width="300.5" height="7"/><rect class="so" x="31.5" y="56.5" width="300.5" height="7"/>
<g class="mn" transform="translate(0,-8)"><text x="32">117</text><text x="272.4">118</text></g>
<g class="gv" transform="translate(0,76.2)"><text x="270.4">96</text><text x="510.8">24</text></g>
<g class="sc" transform="translate(0,89.5)"><text x="270.4">125867</text><text x="510.8">126011</text></g>
<g class="pc" transform="translate(0,102.2)"><text x="270.4">0.00%</text><text x="510.8">0.00%</text></g>
</g>
</g>
</svg>
